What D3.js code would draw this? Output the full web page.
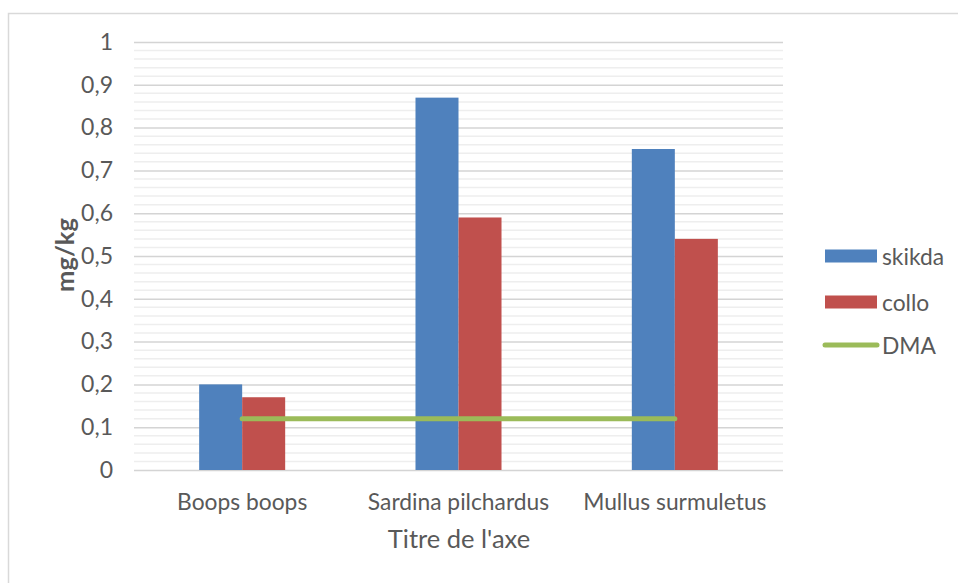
<!DOCTYPE html>
<html>
<head>
<meta charset="utf-8">
<script src="https://cdn.jsdelivr.net/npm/d3@7"></script>
<style>
  html, body { margin: 0; padding: 0; background: #ffffff; }
  svg { display: block; }
  text { font-family: Lato, "Open Sans", sans-serif; fill: #595959; }
</style>
</head>
<body>
<svg id="chart" width="958" height="583"></svg>
<script>
// Species sampled
const categories = ["Boops boops", "Sardina pilchardus", "Mullus surmuletus"];
// Concentrations (mg/kg) per site
const skikda = [0.20, 0.87, 0.75];
const collo = [0.17, 0.59, 0.54];
// Maximum admissible dose (DMA)
const dma = [0.12, 0.12, 0.12];
const seriesNames = ["skikda", "collo"];
const seriesColors = ["#4F81BD", "#C0504D"];
const dmaColor = "#9BBB59";
const yTickLabels = ["0", "0,1", "0,2", "0,3", "0,4", "0,5", "0,6", "0,7", "0,8", "0,9", "1"];
const yTitle = "mg/kg";
const xTitle = "Titre de l'axe";

const svg = d3.select("#chart");

// Outer chart frame
svg.append("rect")
  .attr("x", 8.5).attr("y", 13.5)
  .attr("width", 980).attr("height", 600)
  .attr("fill", "#ffffff")
  .attr("stroke", "#d9d9d9")
  .attr("stroke-width", 1.5);

const plot = { left: 134, right: 783, top: 42, bottom: 470 };

const y = d3.scaleLinear().domain([0, 1]).range([plot.bottom, plot.top]);
const x0 = d3.scaleBand().domain(categories).range([plot.left, plot.right]).padding(0);
const x1 = d3.scaleBand().domain(seriesNames)
  .range([0, x0.bandwidth()]).paddingInner(0).paddingOuter(1.515);

// Minor gridlines every 0.02
const minor = d3.range(0, 1.0001, 0.02).filter(v => Math.abs(Math.round(v * 10) - v * 10) > 1e-6);
svg.append("g").selectAll("line").data(minor).join("line")
  .attr("x1", plot.left).attr("x2", plot.right)
  .attr("y1", d => y(d)).attr("y2", d => y(d))
  .attr("stroke", "#eeeeee").attr("stroke-width", 1.5);

// Major gridlines and tick labels
const yAxis = d3.axisLeft(y)
  .tickValues(d3.range(0, 11).map(i => i / 10))
  .tickFormat((d, i) => yTickLabels[i])
  .tickSize(-(plot.right - plot.left))
  .tickPadding(21);
const gy = svg.append("g").attr("transform", `translate(${plot.left},0)`).call(yAxis);
gy.select(".domain").remove();
gy.selectAll(".tick line").attr("stroke", "#d4d4d4").attr("stroke-width", 1.5);
gy.selectAll(".tick text")
  .attr("font-size", 23)
  .attr("fill", "#595959")
  .style("font-family", "Lato, sans-serif");

// Bars
const series = [skikda, collo];
const groups = svg.append("g").selectAll("g").data(categories).join("g")
  .attr("transform", d => `translate(${x0(d)},0)`);
groups.selectAll("rect")
  .data((c, ci) => seriesNames.map((s, si) => ({ s, v: series[si][ci], color: seriesColors[si] })))
  .join("rect")
  .attr("x", d => x1(d.s))
  .attr("width", x1.bandwidth())
  .attr("y", d => y(d.v))
  .attr("height", d => y(0) - y(d.v))
  .attr("fill", d => d.color);

// DMA line across category centres
const line = d3.line()
  .x((d, i) => x0(categories[i]) + x0.bandwidth() / 2)
  .y(d => y(d));
svg.append("path")
  .datum(dma)
  .attr("d", line)
  .attr("fill", "none")
  .attr("stroke", dmaColor)
  .attr("stroke-width", 5)
  .attr("stroke-linecap", "round");

// Category labels
svg.append("g").selectAll("text").data(categories).join("text")
  .attr("x", d => x0(d) + x0.bandwidth() / 2)
  .attr("y", 510)
  .attr("text-anchor", "middle")
  .attr("font-size", 22.8)
  .text(d => d);

// Axis titles
svg.append("text")
  .attr("x", 459).attr("y", 548)
  .attr("text-anchor", "middle")
  .attr("font-size", 25.5)
  .text(xTitle);

svg.append("text")
  .attr("transform", "translate(64,255) rotate(-90)")
  .attr("text-anchor", "middle")
  .attr("dominant-baseline", "central")
  .attr("font-size", 25.5)
  .attr("font-weight", "bold")
  .text(yTitle);

// Legend
const legend = svg.append("g").attr("transform", "translate(825,0)");
const legendItems = [
  { name: "skikda", type: "rect", color: seriesColors[0], cy: 256 },
  { name: "collo", type: "rect", color: seriesColors[1], cy: 302 },
  { name: "DMA", type: "line", color: dmaColor, cy: 345 }
];
legendItems.forEach(it => {
  if (it.type === "rect") {
    legend.append("rect")
      .attr("x", 0).attr("y", it.cy - 6.5)
      .attr("width", 52).attr("height", 13)
      .attr("fill", it.color);
  } else {
    legend.append("line")
      .attr("x1", 0).attr("x2", 52)
      .attr("y1", it.cy).attr("y2", it.cy)
      .attr("stroke", it.color).attr("stroke-width", 5)
      .attr("stroke-linecap", "round");
  }
  legend.append("text")
    .attr("x", 57).attr("y", it.cy)
    .attr("dominant-baseline", "central")
    .attr("font-size", 22.8)
    .text(it.name);
});
</script>
</body>
</html>
